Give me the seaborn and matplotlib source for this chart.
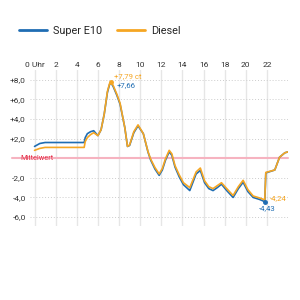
import numpy as np
import pandas as pd
import seaborn as sns
import matplotlib.pyplot as plt
import matplotlib.transforms as mtransforms
from matplotlib.lines import Line2D

# hour of day and deviation from daily mean (ct)
hours = [0.0, 0.5, 1.0, 2.0, 3.0, 4.0, 4.7, 4.8, 5.0, 5.3, 5.6, 6.0, 6.3, 6.6,
         6.9, 7.1, 7.25, 7.45, 7.8, 8.1, 8.55, 8.8, 9.0, 9.4, 9.8, 10.3, 10.75,
         11.0, 11.4, 11.8, 12.1, 12.4, 12.75, 13.0, 13.3, 13.7, 14.1, 14.7,
         15.3, 15.7, 16.1, 16.5, 16.9, 17.3, 17.7, 18.2, 18.8, 19.3, 19.75,
         20.2, 20.7, 21.3, 21.8, 21.9, 22.75, 23.2, 23.7, 24.0]
e10 = [1.2, 1.5, 1.6, 1.6, 1.6, 1.6, 1.6, 2.1, 2.5, 2.7, 2.8, 2.3, 2.9, 4.5,
       6.7, 7.5, 7.66, 7.3, 6.4, 5.5, 3.1, 1.2, 1.3, 2.6, 3.3, 2.5, 0.6,
       -0.2, -1.1, -1.75, -1.2, -0.2, 0.65, 0.3, -0.9, -1.9, -2.7, -3.3,
       -1.6, -1.25, -2.5, -3.1, -3.3, -3.0, -2.65, -3.3, -4.0, -3.1, -2.45,
       -3.4, -4.0, -4.2, -4.43, -1.5, -1.2, 0.1, 0.55, 0.65]
diesel = [0.8, 1.0, 1.1, 1.1, 1.1, 1.1, 1.1, 1.7, 2.1, 2.4, 2.6, 2.3, 2.9, 4.5,
          6.8, 7.6, 7.79, 7.4, 6.5, 5.6, 3.1, 1.2, 1.35, 2.7, 3.4, 2.5, 0.65,
          -0.1, -0.95, -1.6, -1.05, -0.05, 0.8, 0.45, -0.75, -1.7, -2.5, -3.0,
          -1.4, -1.0, -2.3, -2.9, -3.1, -2.8, -2.5, -3.1, -3.8, -2.9, -2.25,
          -3.2, -3.85, -4.05, -4.24, -1.45, -1.2, 0.1, 0.55, 0.65]
series = ["Super E10", "Diesel"]
colors = ["#1f6db3", "#f5a623"]
xticks = list(range(0, 24, 2))
xlabels = ["0 Uhr"] + [str(h) for h in xticks[1:]]
yticks = [8, 6, 4, 2, 0, -2, -4, -6]
ylabels = ["+8,0", "+6,0", "+4,0", "+2,0", "", "-2,0", "-4,0", "-6,0"]

df = pd.concat([
    pd.DataFrame({"h": hours, "v": e10, "s": series[0]}),
    pd.DataFrame({"h": hours, "v": diesel, "s": series[1]}),
])

sns.set_style("white")
plt.rcParams["font.family"] = ["Roboto", "DejaVu Sans"]

fig = plt.figure(figsize=(3, 3), dpi=100)
ax = fig.add_axes([0.1, 0.247, 0.86, 0.52])

sns.lineplot(data=df, x="h", y="v", hue="s", palette=colors, linewidth=1.2,
             legend=False, ax=ax, zorder=3)

ax.set_xlim(-0.43, 24.0)
ax.set_ylim(-6.9, 9.0)
ax.set_xticks(xticks)
ax.set_xticklabels(xlabels)
ax.set_yticks(yticks)
ax.set_yticklabels(ylabels)
ax.xaxis.tick_top()
ax.tick_params(axis="both", length=0, labelsize=6, colors="#333333")
ax.tick_params(axis="x", pad=1.5)
ax.tick_params(axis="y", pad=3)
ax.set_xlabel("")
ax.set_ylabel("")
for s in ax.spines.values():
    s.set_visible(False)

ax.grid(False)
for x in xticks:
    ax.axvline(x, color="#e6e6e6", linewidth=1, zorder=0)
for y in yticks:
    if y != 0:
        ax.axhline(y, color="#cccccc", linewidth=0.7, linestyle=(0, (1, 2)), zorder=0)

# mean line
trans = mtransforms.blended_transform_factory(ax.transAxes, ax.transData)
ax.plot([-0.07, 1.0], [0, 0], color="#f6b3c0", linewidth=1.5, transform=trans,
        clip_on=False, zorder=1)
ax.text(-0.038, 0, "Mittelwert", color="#e5334b", fontsize=5.3, va="center",
        ha="left", transform=trans, zorder=2)

# annotations
ax.plot([7.25], [7.79], "o", color=colors[1], markersize=2.5, zorder=4)
ax.plot([21.8], [-4.43], "o", color=colors[0], markersize=2.5, zorder=4)
ax.text(7.5, 8.35, "+7,79 ct", color=colors[1], fontsize=5.6,
        va="center", ha="left")
ax.text(7.8, 7.45, "+7,66", color=colors[0], fontsize=5.6,
        va="center", ha="left")
ax.text(22.25, -4.05, "-4,24", color=colors[1], fontsize=5.6,
        va="center", ha="left")
ax.text(22.0, -5.1, "-4,43", color=colors[0], fontsize=5.6,
        va="center", ha="center")

handles = [Line2D([], [], color=c, linewidth=2) for c in colors]
fig.legend(handles, series, loc="center left", bbox_to_anchor=(0.03, 0.897),
           ncol=2, frameon=False, fontsize=7.8, handlelength=2.6,
           handletextpad=0.6, columnspacing=1.3)

fig.savefig("out.png", dpi=100)
